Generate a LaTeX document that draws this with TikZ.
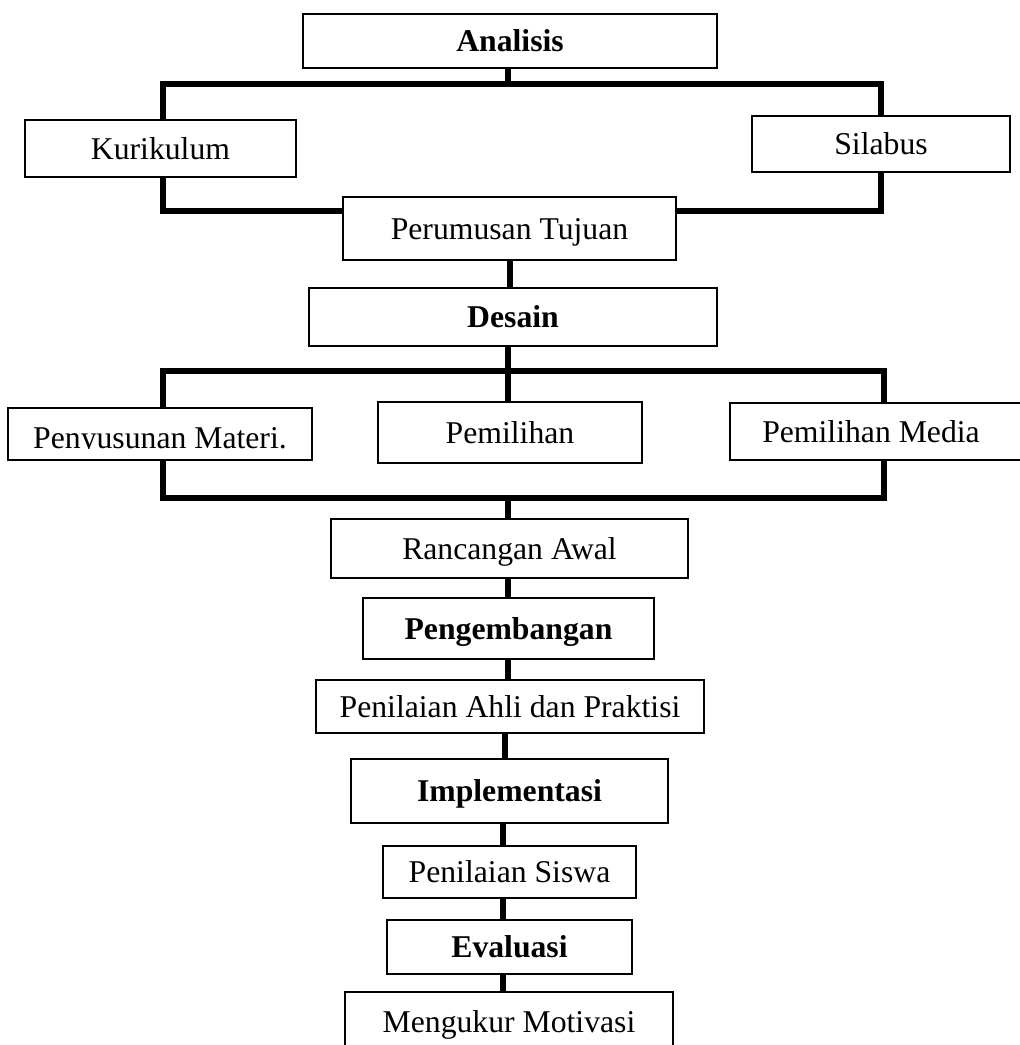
\documentclass[tikz,border=0pt]{standalone}
\usepackage{fontspec}
\setmainfont{Liberation Serif}
\begin{document}
\begin{tikzpicture}[x=1pt,y=-1pt,
  txt/.style={font=\fontsize{31.7}{38}\selectfont, text height=21pt, text depth=0pt, inner sep=0pt},
  box/.style={txt, draw, line width=2pt, rectangle},
  bbox/.style={box, font=\fontsize{31.7}{38}\selectfont\bfseries},
  conn/.style={line width=5.5pt, line join=miter, line cap=butt}]
\useasboundingbox (0,0) rectangle (1020,1045);
% boxes
\node[bbox, minimum width=414pt, minimum height=54pt] (ana) at (510,41) {Analisis};
\node[box, minimum width=271pt, minimum height=57pt] (kur) at (160.5,148.5) {Kurikulum};
\node[box, minimum width=258pt, minimum height=56pt] (sil) at (881,144) {Silabus};
\node[box, minimum width=333pt, minimum height=63pt] (per) at (509.5,228.5) {Perumusan Tujuan};
\node[bbox, minimum width=408pt, minimum height=58pt] (des) at (513,317) {Desain};
\node[box, minimum width=304pt, minimum height=52pt] (pen) at (160,434) {};
\node[box, minimum width=264pt, minimum height=61pt] (pem) at (510,432.5) {Pemilihan};
\node[box, minimum width=300pt, minimum height=57pt] (med) at (880,431.5) {};
\node[txt] (medtxt) at (871,431.5) {Pemilihan Media};
\node[box, minimum width=357pt, minimum height=59pt] (ran) at (509.5,548.5) {Rancangan Awal};
\node[bbox, minimum width=291pt, minimum height=61pt] (pgb) at (508.5,628.5) {Pengembangan};
\node[box, minimum width=388pt, minimum height=53pt] (pah) at (510,706.5) {Penilaian Ahli dan Praktisi};
\node[bbox, minimum width=317pt, minimum height=64pt] (imp) at (509.5,791) {Implementasi};
\node[box, minimum width=253pt, minimum height=52pt] (psw) at (509.5,872) {Penilaian Siswa};
\node[bbox, minimum width=245pt, minimum height=54pt] (eva) at (509.5,947) {Evaluasi};
\node[box, minimum width=328pt, minimum height=60pt] (mgk) at (509,1022) {Mengukur Motivasi};
% clipped label of Penyusunan
\coordinate (clipy) at (0,448);
\begin{scope}
\clip (pen.north west) rectangle (pen.east |- clipy);
\node[txt] (pentxt) at (160,438) {Penyusunan Materi.};
\end{scope}
% bus coordinates
\coordinate (b1l) at (163,84);
\coordinate (b1c) at (508,84);
\coordinate (b1r) at (881,84);
\coordinate (j1) at (0,211);
\coordinate (s1) at (510,0);
\coordinate (b2l) at (163,371);
\coordinate (b2c) at (508,371);
\coordinate (b2r) at (884,371);
\coordinate (b3l) at (163,498);
\coordinate (b3c) at (508,498);
\coordinate (b3r) at (884,498);
\coordinate (s2) at (508,0);
\coordinate (s3) at (505,0);
\coordinate (s4) at (503,0);
% connectors
\draw[conn] (ana.south -| b1c) -- (b1c);
\draw[conn] (kur.north -| b1l) -- (b1l) -- (b1r) -- (sil.north -| b1r);
\draw[conn] (kur.south -| b1l) |- (per.west |- j1);
\draw[conn] (sil.south -| b1r) |- (per.east |- j1);
\draw[conn] (per.south -| s1) -- (des.north -| s1);
\draw[conn] (des.south -| b2c) -- (pem.north -| b2c);
\draw[conn] (pen.north -| b2l) -- (b2l) -- (b2r) -- (med.north -| b2r);
\draw[conn] (pen.south -| b3l) -- (b3l) -- (b3r) -- (med.south -| b3r);
\draw[conn] (b3c) -- (ran.north -| b3c);
\draw[conn] (ran.south -| s2) -- (pgb.north -| s2);
\draw[conn] (pgb.south -| s2) -- (pah.north -| s2);
\draw[conn] (pah.south -| s3) -- (imp.north -| s3);
\draw[conn] (imp.south -| s4) -- (psw.north -| s4);
\draw[conn] (psw.south -| s4) -- (eva.north -| s4);
\draw[conn] (eva.south -| s4) -- (mgk.north -| s4);
\end{tikzpicture}
\end{document}
